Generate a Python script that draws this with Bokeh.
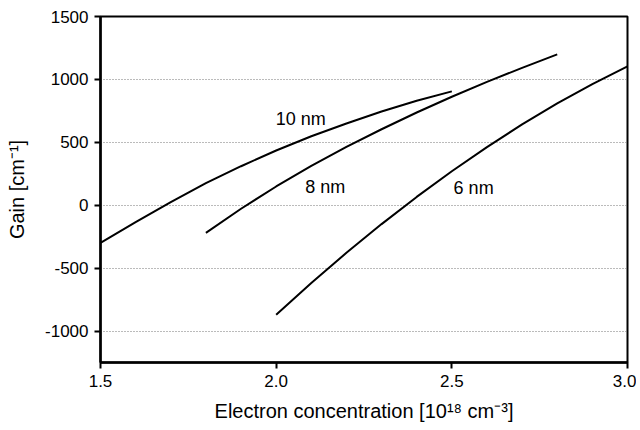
from bokeh.plotting import figure
from bokeh.embed import file_html
from bokeh.resources import INLINE
from bokeh.models import FixedTicker, Range1d
from bokeh.core.properties import value

# Data
x_10nm = [1.5, 1.6, 1.7, 1.8, 1.9, 2.0, 2.1, 2.2, 2.3, 2.4, 2.5]
g_10nm = [-300, -135, 25, 175, 310, 435, 548, 650, 745, 830, 905]

x_8nm = [1.8, 1.9, 2.0, 2.1, 2.2, 2.3, 2.4, 2.5, 2.6, 2.7, 2.8]
g_8nm = [-220, -28, 149, 312, 463, 604, 737, 862, 980, 1092, 1199]

x_6nm = [2.0, 2.1, 2.2, 2.3, 2.4, 2.5, 2.6, 2.7, 2.8, 2.9, 3.0]
g_6nm = [-870, -618, -378, -150, 66, 270, 462, 642, 809, 963, 1104]

labels = ["10 nm", "8 nm", "6 nm"]
label_x = [2.07, 2.14, 2.562]
label_y = [685, 143, 135]

x_ticks = [1.5, 2.0, 2.5, 3.0]
x_tick_labels = ["1.5", "2.0", "2.5", "3.0"]
y_ticks = [-1000, -500, 0, 500, 1000, 1500]
y_tick_labels = ["-1000", "-500", "0", "500", "1000", "1500"]

FONT = "Liberation Sans"

p = figure(width=636, height=426, output_backend="svg", toolbar_location=None,
           x_range=Range1d(1.5, 3.0), y_range=Range1d(-1250, 1500),
           min_border_left=100, min_border_right=9, min_border_top=16, min_border_bottom=64)

p.background_fill_color = "white"
p.border_fill_color = "white"
p.outline_line_color = "black"
p.outline_line_width = 2

for xs, ys in [(x_10nm, g_10nm), (x_8nm, g_8nm), (x_6nm, g_6nm)]:
    p.line(xs, ys, line_color="black", line_width=2)

p.text(x=label_x, y=label_y, text=labels, text_font=value(FONT), text_font_size="18px",
       text_align="center", text_baseline="middle", text_color="black")

p.xaxis.ticker = FixedTicker(ticks=x_ticks)
p.yaxis.ticker = FixedTicker(ticks=y_ticks)
p.xaxis.major_label_overrides = dict(zip(x_ticks, x_tick_labels))
p.yaxis.major_label_overrides = dict(zip(y_ticks, y_tick_labels))

for ax in (p.xaxis, p.yaxis):
    ax.axis_line_width = 2.5
    ax.axis_line_color = "black"
    ax.major_tick_line_width = 2
    ax.major_tick_line_color = "black"
    ax.major_tick_out = 6
    ax.major_tick_in = 0
    ax.minor_tick_out = 0
    ax.minor_tick_in = 0
    ax.major_label_text_font = FONT
    ax.major_label_text_font_size = "17px"
    ax.major_label_text_color = "black"
    ax.axis_label_text_font = FONT
    ax.axis_label_text_font_style = "normal"
    ax.axis_label_text_color = "black"

p.xaxis.axis_label = "Electron concentration [10¹⁸ cm⁻³]"
p.xaxis.axis_label_text_font_size = "20px"
p.xaxis.axis_label_standoff = 10
p.xaxis.major_label_standoff = 6

p.yaxis.axis_label = "Gain [cm⁻¹]"
p.yaxis.axis_label_text_font_size = "20px"
p.yaxis.axis_label_standoff = 14
p.yaxis.major_label_standoff = 6

p.xgrid.grid_line_color = None
p.ygrid.grid_line_color = "#777777"
p.ygrid.grid_line_width = 1
p.ygrid.grid_line_dash = "1 2"

open("out.html", "w").write(file_html(p, INLINE))
